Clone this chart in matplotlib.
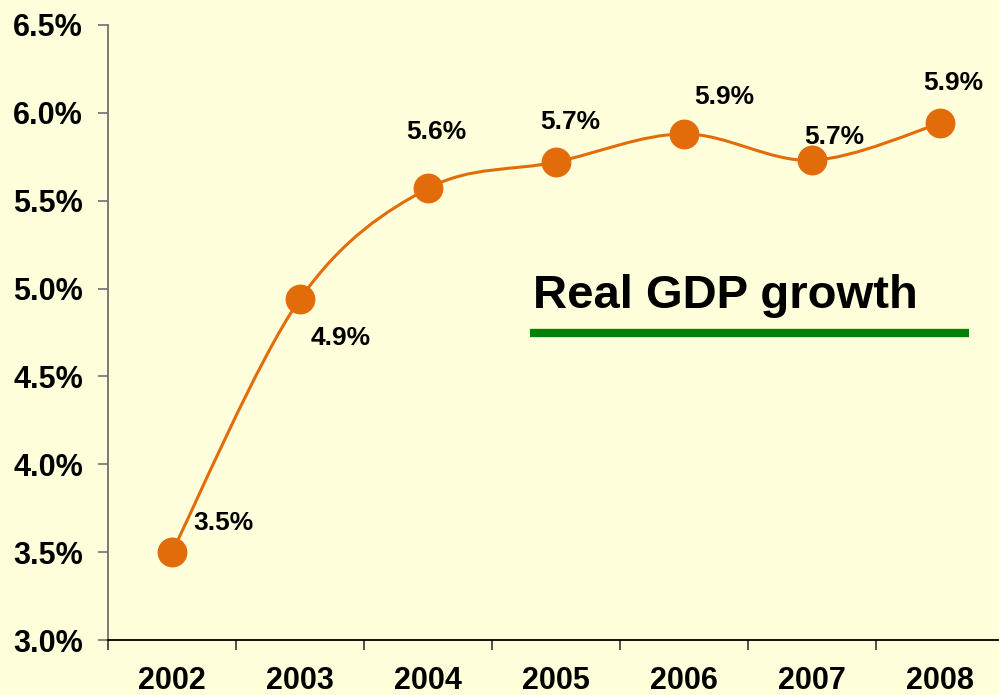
import numpy as np
import matplotlib.pyplot as plt
from matplotlib.path import Path
from matplotlib.patches import PathPatch

# --- data ---
years = ["2002", "2003", "2004", "2005", "2006", "2007", "2008"]
gdp_growth = [3.50, 4.94, 5.57, 5.72, 5.88, 5.73, 5.94]
# where each value label sits relative to its marker (pixels)
label_dx = [51, 41, 8, 14, 40, 22, 13]
label_dy = [29, -39, 56, 40, 37, 23, 40]

BG = "#FFFFDB"
ORANGE = "#E36C0A"
GREEN = "#088008"

plt.rcParams["font.family"] = ["Liberation Sans", "DejaVu Sans"]
plt.rcParams["font.weight"] = "bold"

fig = plt.figure(figsize=(9.99, 6.95), dpi=100, facecolor=BG)
W, H = 999, 695
ax = fig.add_axes([108 / W, 55 / H, 896 / W, 615 / H], facecolor=BG)

x = np.arange(len(years), dtype=float)
y = np.array(gdp_growth)

# smoothed line: cubic bezier segments with catmull-rom style handles
pts = np.column_stack([x, y])
verts = [pts[0]]
codes = [Path.MOVETO]
for i in range(len(pts) - 1):
    p0 = pts[max(i - 1, 0)]
    p1 = pts[i]
    p2 = pts[i + 1]
    p3 = pts[min(i + 2, len(pts) - 1)]
    c1 = p1 + (p2 - p0) / 6.0
    c2 = p2 - (p3 - p1) / 6.0
    verts += [c1, c2, p2]
    codes += [Path.CURVE4] * 3
ax.add_patch(PathPatch(Path(verts, codes), facecolor="none",
                       edgecolor=ORANGE, lw=2.2, zorder=2))

ax.plot(x, y, linestyle="none", marker="o", ms=20.5, mfc=ORANGE,
        mec=ORANGE, zorder=3)

for xi, yi, dx, dy in zip(x, y, label_dx, label_dy):
    ax.annotate(f"{yi:.1f}%", (xi, yi), xytext=(dx, dy),
                textcoords="offset pixels", ha="center", va="center",
                fontsize=19, fontweight="bold", color="black")

ax.set_xlim(-0.5, len(years) - 0.5)
ax.set_ylim(3.0, 6.5)
ax.set_yticks(np.arange(3.0, 6.51, 0.5))
ax.set_yticklabels([f"{v:.1f}%" for v in np.arange(3.0, 6.51, 0.5)])
ax.set_xticks(x)
ax.set_xticklabels(years)
ax.set_xticks(np.arange(-0.5, len(years), 1.0), minor=True)

ax.tick_params(axis="y", direction="out", length=7, width=1.2,
               color="#707070", labelsize=22, pad=11)
ax.tick_params(axis="x", which="major", length=0, labelsize=22, pad=19)
ax.tick_params(axis="x", which="minor", direction="out", length=7,
               width=1.2, color="#333333")

for s in ("top", "right"):
    ax.spines[s].set_visible(False)
ax.spines["left"].set_color("#707070")
ax.spines["left"].set_linewidth(1.3)
ax.spines["bottom"].set_color("black")
ax.spines["bottom"].set_linewidth(1.3)

# series key drawn as a caption over a thick green rule
fig.text(533 / W, 1 - 296 / H, "Real GDP growth", fontsize=34,
         fontweight="bold", ha="left", va="center")
fig.add_artist(plt.Line2D([530 / W, 969 / W], [1 - 333 / H, 1 - 333 / H],
                          color=GREEN, lw=6, solid_capstyle="butt"))

fig.savefig("out.png", dpi=100, facecolor=BG)
